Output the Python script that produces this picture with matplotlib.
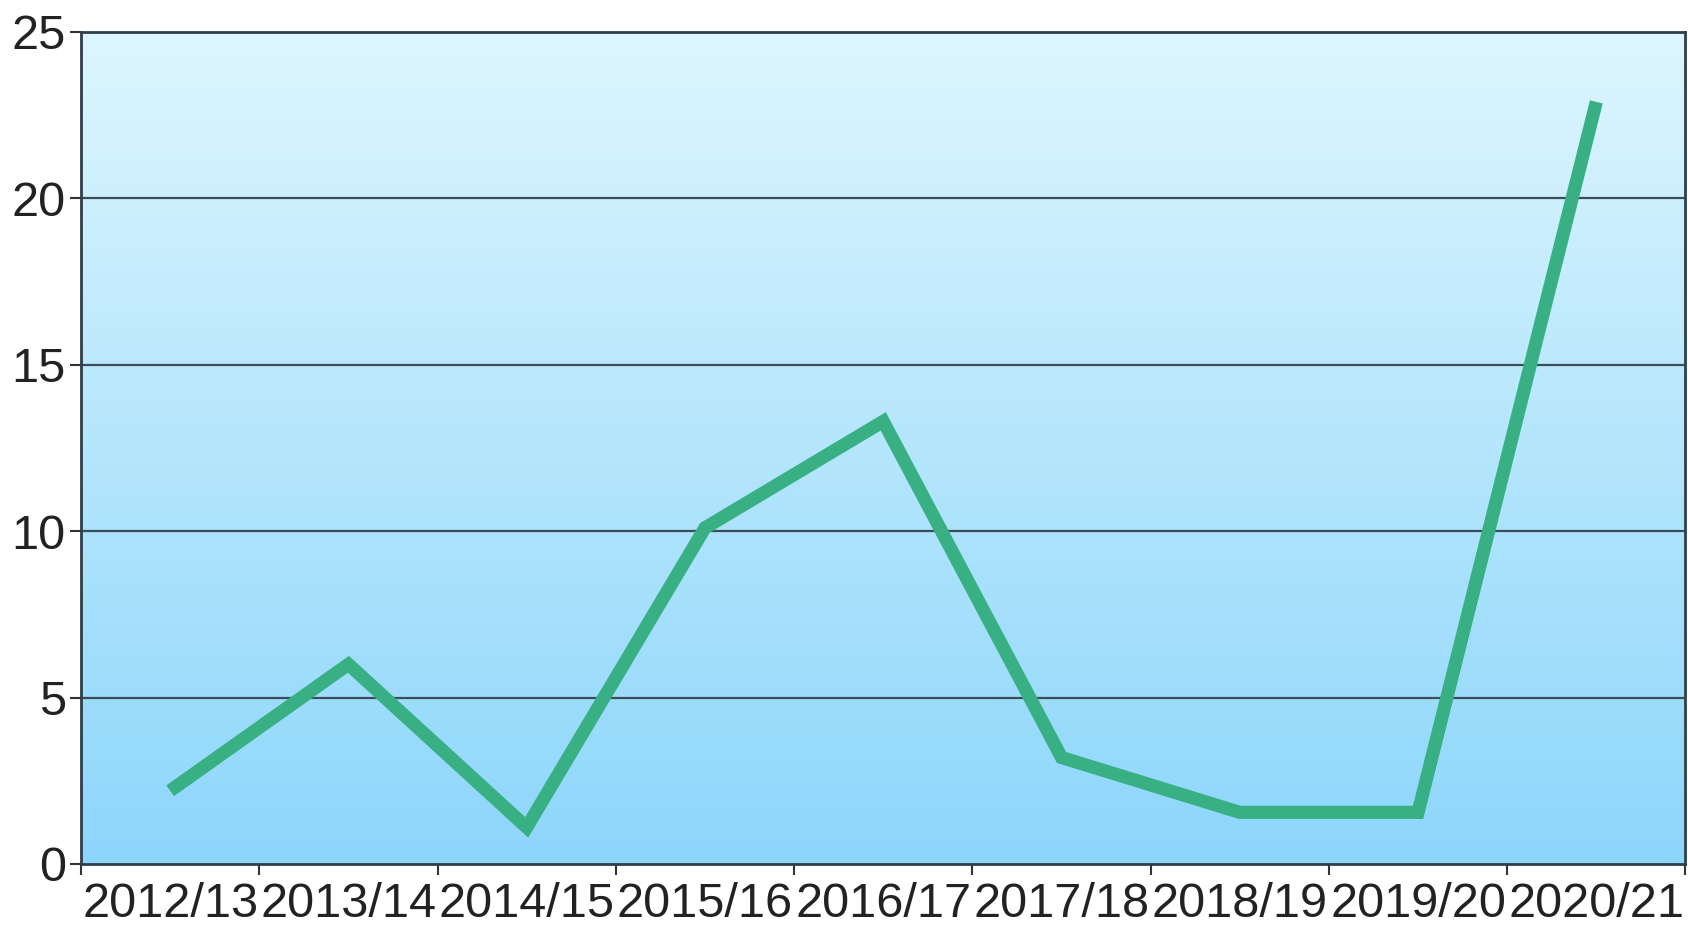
import numpy as np
import matplotlib
matplotlib.use("Agg")
import matplotlib.pyplot as plt
from matplotlib.colors import LinearSegmentedColormap

# data
seasons = ["2012/13", "2013/14", "2014/15", "2015/16", "2016/17",
           "2017/18", "2018/19", "2019/20", "2020/21"]
values = [2.2, 6.0, 1.1, 10.1, 13.3, 3.2, 1.55, 1.55, 22.9]
y_ticks = [0, 5, 10, 15, 20, 25]

plt.rcParams['font.family'] = ['Liberation Sans', 'DejaVu Sans']

fig = plt.figure(figsize=(16.88, 9.27), dpi=100)
ax = fig.add_axes([0.048, 0.068, 0.9505, 0.8975])

n = len(seasons)
ax.set_xlim(0, n)
ax.set_ylim(0, 25)

# background gradient (light cyan at top -> sky blue at bottom)
cmap = LinearSegmentedColormap.from_list("bg", ["#8dd6fb", "#ddf6fe"])
grad = np.linspace(0, 1, 256).reshape(-1, 1)
ax.imshow(grad, extent=[0, 1, 0, 1], transform=ax.transAxes, cmap=cmap,
          origin="lower", aspect="auto", zorder=0)

# horizontal grid lines
for yv in y_ticks[1:-1]:
    ax.axhline(yv, color="#3b4d5a", lw=1.6, zorder=1)

x = np.arange(n) + 0.5
ax.plot(x, values, color="#38b084", lw=9.5, solid_capstyle="butt",
        solid_joinstyle="miter", zorder=3)

ax.set_yticks(y_ticks)
ax.set_yticklabels([str(v) for v in y_ticks])
ax.set_xticks(np.arange(n + 1))
ax.set_xticklabels([])
ax.set_xticks(x, minor=True)
ax.set_xticklabels(seasons, minor=True)
ax.tick_params(axis="x", which="minor", length=0, pad=13)
ax.tick_params(axis="x", which="major", length=8, width=1.5, color="#333333")
ax.tick_params(axis="y", length=8, width=1.5, color="#333333", pad=3)
ax.tick_params(labelsize=35, labelcolor="#222222")
ax.tick_params(axis="x", which="minor", labelsize=35, labelcolor="#222222")

for s in ax.spines.values():
    s.set_color("#2f3f4a")
    s.set_linewidth(2)
    s.set_zorder(4)

fig.savefig("out.png", dpi=100, facecolor="white")
